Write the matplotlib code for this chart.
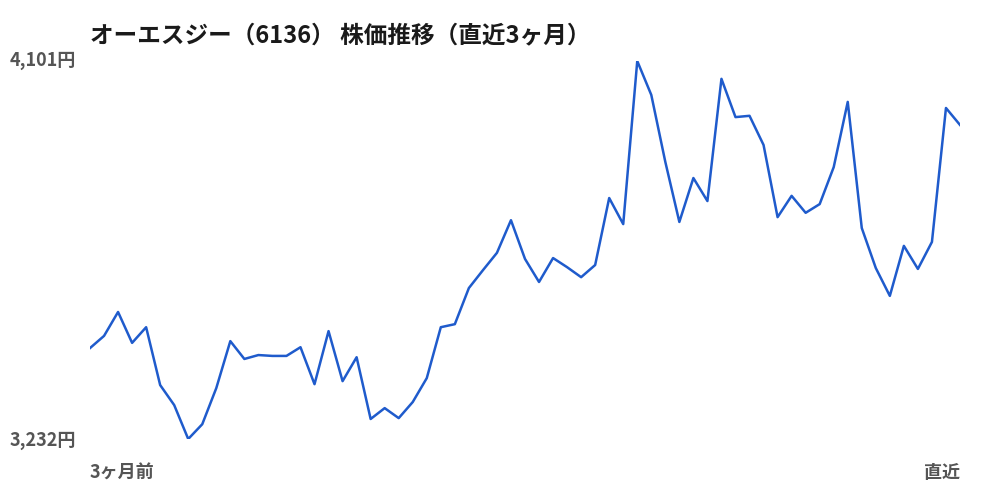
import matplotlib
matplotlib.use("Agg")
import matplotlib.pyplot as plt

plt.rcParams["font.family"] = ["Noto Sans CJK JP", "DejaVu Sans"]

# 終値（直近3ヶ月、画像から読み取り）
prices = [
    3441, 3469, 3524, 3453, 3489, 3356, 3310, 3232, 3266, 3349,
    3457, 3416, 3425, 3423, 3423, 3443, 3358, 3480, 3365, 3420,
    3278, 3303, 3280, 3317, 3372, 3489, 3496, 3579, 3620, 3660,
    3735, 3646, 3593, 3648, 3627, 3604, 3632, 3786, 3726, 4101,
    4023, 3869, 3731, 3832, 3779, 4060, 3972, 3975, 3908, 3742,
    3791, 3752, 3772, 3857, 4007, 3717, 3625, 3561, 3676, 3623,
    3685, 3993, 3954,
]
title = "オーエスジー（6136） 株価推移（直近3ヶ月）"
x_labels = ["3ヶ月前", "直近"]

fig = plt.figure(figsize=(10, 5), dpi=100)
ax = fig.add_axes([0.09, 0.122, 0.87, 0.756])

x = list(range(len(prices)))
ax.plot(x, prices, color="#1f5bcc", linewidth=1.8)

lo, hi = min(prices), max(prices)
ax.set_xlim(0, len(prices) - 1)
ax.set_ylim(lo, hi)
ax.axis("off")

gray = "#555555"
# 最大・最小ラベル
fig.text(0.01, 1 - 61 / 500, f"{hi:,}円", ha="left", va="center",
         fontsize=13, fontweight="bold", color=gray)
fig.text(0.01, 1 - 441 / 500, f"{lo:,}円", ha="left", va="center",
         fontsize=13, fontweight="bold", color=gray)
fig.text(0.09, 1 - 473 / 500, x_labels[0], ha="left", va="center",
         fontsize=13, fontweight="bold", color=gray)
fig.text(0.96, 1 - 473 / 500, x_labels[1], ha="right", va="center",
         fontsize=13, fontweight="bold", color=gray)

fig.text(0.09, 1 - 35 / 500, title, ha="left", va="center",
         fontsize=17, fontweight="bold", color="#1a1a1a")

fig.savefig("out.png", dpi=100, facecolor="white")
